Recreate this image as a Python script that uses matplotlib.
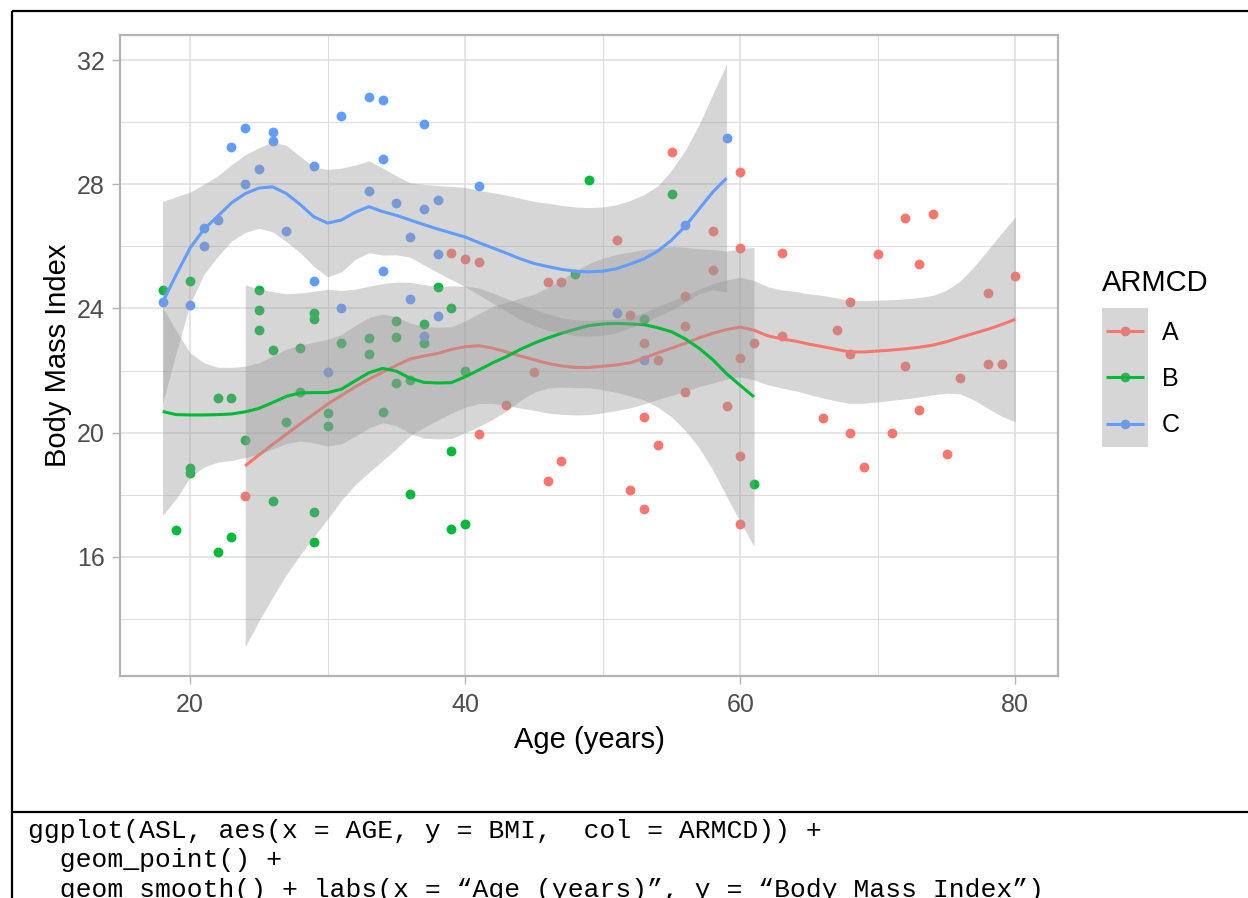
import matplotlib
matplotlib.use("Agg")
import matplotlib.pyplot as plt
import numpy as np
from matplotlib.patches import Rectangle

plt.rcParams['font.family'] = ['Liberation Sans', 'DejaVu Sans']

# ---------------- data: points ----------------
groups = ['A', 'B', 'C']
colors = {'A': '#F8766D', 'B': '#00BA38', 'C': '#619CFF'}

age_A = [24, 39, 40, 41, 41, 43, 45, 46, 46, 47, 47, 51, 52, 52, 53, 53, 53, 54, 54, 55,
         56, 56, 56, 58, 58, 59, 60, 60, 60, 60, 60, 61, 63, 63, 66, 67, 68, 68, 68, 69,
         70, 71, 72, 72, 73, 73, 74, 75, 76, 78, 78, 79, 80]
bmi_A = [17.96, 25.8, 25.6, 25.5, 19.95, 20.9, 21.95, 24.85, 18.45, 24.85, 19.1, 26.2,
         23.8, 18.15, 22.9, 17.55, 20.5, 19.6, 22.35, 29.05, 24.4, 23.43, 21.3, 26.5,
         25.24, 20.85, 28.4, 25.95, 22.4, 19.25, 17.05, 22.9, 25.8, 23.1, 20.47, 23.3,
         24.2, 22.53, 20.0, 18.9, 25.75, 20.0, 26.9, 22.14, 25.42, 20.73, 27.05, 19.3,
         21.75, 24.5, 22.2, 22.2, 25.05]

age_B = [18, 19, 20, 20, 20, 22, 22, 23, 23, 24, 25, 25, 25, 26, 26, 27, 28, 28, 29, 29,
         29, 29, 30, 30, 31, 33, 33, 34, 35, 35, 35, 36, 36, 37, 37, 38, 39, 39, 39, 40,
         40, 48, 49, 53, 55, 61]
bmi_B = [24.6, 16.85, 24.9, 18.85, 18.7, 21.1, 16.15, 21.1, 16.65, 19.75, 24.6, 23.95,
         23.3, 22.65, 17.8, 20.35, 22.72, 21.3, 23.85, 23.65, 17.45, 16.48, 20.64, 20.2,
         22.9, 23.05, 22.53, 20.65, 23.6, 23.07, 21.6, 18.02, 21.7, 23.5, 22.9, 24.7,
         24.0, 19.4, 16.9, 22.0, 17.05, 25.1, 28.15, 23.65, 27.7, 18.35]

age_C = [18, 20, 21, 21, 22, 23, 24, 24, 25, 26, 26, 27, 29, 29, 30, 31, 31, 33, 33, 34,
         34, 34, 35, 36, 36, 37, 37, 37, 38, 38, 38, 41, 51, 53, 56, 59]
bmi_C = [24.2, 24.1, 26.6, 26.0, 26.85, 29.2, 29.8, 28.0, 28.5, 29.7, 29.4, 26.5, 28.6,
         24.9, 21.95, 30.2, 24.0, 30.8, 27.8, 30.7, 28.8, 25.2, 27.4, 26.3, 24.3, 29.95,
         27.2, 23.1, 27.5, 25.75, 23.75, 27.95, 23.85, 22.35, 26.7, 29.5]

# ---------------- data: loess smooths ----------------
sm_age_A = list(range(24, 81))
sm_fit_A = [18.93, 19.28, 19.62, 19.95, 20.28, 20.6, 20.92, 21.2, 21.47, 21.72, 21.95,
            22.17, 22.37, 22.47, 22.55, 22.68, 22.77, 22.8, 22.72, 22.6, 22.47, 22.35,
            22.23, 22.15, 22.1, 22.1, 22.14, 22.18, 22.25, 22.4, 22.57, 22.72, 22.88,
            23.05, 23.2, 23.32, 23.4, 23.3, 23.12, 23.02, 22.95, 22.85, 22.77, 22.68,
            22.6, 22.6, 22.63, 22.66, 22.7, 22.75, 22.82, 22.93, 23.07, 23.2, 23.33,
            23.48, 23.65]
sm_ci_A = [5.83, 5.35, 4.92, 4.52, 4.22, 3.95, 3.7, 3.38, 3.15, 3.0, 2.85, 2.68, 2.47,
           2.3, 2.15, 2.05, 1.95, 1.86, 1.78, 1.72, 1.68, 1.63, 1.6, 1.56, 1.53, 1.52,
           1.5, 1.47, 1.45, 1.47, 1.5, 1.52, 1.55, 1.57, 1.6, 1.6, 1.6, 1.6, 1.58, 1.58,
           1.6, 1.62, 1.65, 1.66, 1.66, 1.65, 1.64, 1.62, 1.61, 1.6, 1.6, 1.66, 1.82,
           2.15, 2.55, 2.95, 3.3]

sm_age_B = list(range(18, 62))
sm_fit_B = [20.68, 20.58, 20.57, 20.57, 20.58, 20.6, 20.67, 20.78, 20.97, 21.17, 21.28,
            21.29, 21.29, 21.4, 21.67, 21.93, 22.07, 21.98, 21.75, 21.62, 21.6, 21.61,
            21.8, 22.02, 22.25, 22.45, 22.68, 22.88, 23.05, 23.2, 23.33, 23.45, 23.5,
            23.52, 23.5, 23.48, 23.38, 23.25, 23.02, 22.72, 22.35, 21.9, 21.52, 21.15]
sm_ci_B = [3.35, 2.7, 2.0, 1.68, 1.53, 1.5, 1.47, 1.47, 1.5, 1.52, 1.55, 1.62, 1.72,
           1.76, 1.78, 1.78, 1.75, 1.76, 1.78, 1.8, 1.8, 1.8, 1.8, 1.82, 1.82, 1.75,
           1.65, 1.58, 1.62, 1.73, 1.88, 2.0, 2.12, 2.22, 2.32, 2.42, 2.56, 2.74, 2.95,
           3.2, 3.55, 3.95, 4.4, 4.82]

sm_age_C = list(range(18, 60))
sm_fit_C = [24.2, 25.1, 25.95, 26.55, 26.97, 27.4, 27.7, 27.88, 27.92, 27.7, 27.35,
            26.95, 26.75, 26.85, 27.1, 27.28, 27.12, 27.0, 26.85, 26.7, 26.56, 26.43,
            26.3, 26.12, 25.95, 25.78, 25.6, 25.45, 25.35, 25.26, 25.2, 25.18, 25.2,
            25.28, 25.43, 25.6, 25.85, 26.2, 26.65, 27.2, 27.75, 28.2]
sm_ci_C = [3.25, 2.5, 1.8, 1.45, 1.3, 1.23, 1.25, 1.3, 1.45, 1.55, 1.55, 1.6, 1.73,
           1.67, 1.52, 1.48, 1.4, 1.27, 1.2, 1.3, 1.4, 1.5, 1.6, 1.68, 1.78, 1.87, 1.95,
           2.0, 2.04, 2.06, 2.07, 2.07, 2.07, 2.06, 2.05, 2.07, 2.1, 2.25, 2.45, 2.72,
           3.15, 3.67]

points = {'A': (age_A, bmi_A), 'B': (age_B, bmi_B), 'C': (age_C, bmi_C)}
smooths = {'A': (sm_age_A, sm_fit_A, sm_ci_A),
           'B': (sm_age_B, sm_fit_B, sm_ci_B),
           'C': (sm_age_C, sm_fit_C, sm_ci_C)}

x_major = [20, 40, 60, 80]
x_minor = [30, 50, 70]
y_major = [16, 20, 24, 28, 32]
y_minor = [14, 18, 22, 26, 30]

x_title = 'Age (years)'
y_title = 'Body Mass Index'
legend_title = 'ARMCD'
code_lines = ['ggplot(ASL, aes(x = AGE, y = BMI,  col = ARMCD)) +',
              '  geom_point() +',
              '  geom_smooth() + labs(x = \u201cAge (years)\u201d, y = \u201cBody Mass Index\u201d)']

# ---------------- figure ----------------
W, H = 1248, 898
fig = plt.figure(figsize=(W / 100, H / 100), dpi=100)
fig.patch.set_facecolor('white')

pl, pr, pt, pb = 120, 1058, 35, 676
ax = fig.add_axes([pl / W, (H - pb) / H, (pr - pl) / W, (pb - pt) / H])
ax.set_xlim(14.9, 83.1)
ax.set_ylim(12.16, 32.81)
ax.set_xticks(x_major)
ax.set_xticks(x_minor, minor=True)
ax.set_yticks(y_major)
ax.set_yticks(y_minor, minor=True)
ax.set_axisbelow(True)
ax.grid(which='major', color='#DEDEDE', linewidth=1.1)
ax.grid(which='minor', color='#DEDEDE', linewidth=0.8)
for s in ax.spines.values():
    s.set_color('#B3B3B3')
    s.set_linewidth(1.6)
ax.tick_params(which='major', length=5.6, width=1.0, color='#B3B3B3',
               labelsize=18, labelcolor='#4D4D4D')
ax.tick_params(axis='x', which='major', pad=6.5)
ax.tick_params(axis='y', which='major', pad=5.5)
ax.tick_params(which='minor', length=0)

ribbon_color = '#999999'
for g in groups:
    xs, ys = points[g]
    ax.scatter(xs, ys, s=50, color=colors[g], linewidths=0, zorder=2)
for g in groups:
    a, f, c = smooths[g]
    a = np.array(a, float)
    f = np.array(f, float)
    c = np.array(c, float)
    ax.fill_between(a, f - c, f + c, color=ribbon_color, alpha=0.4, linewidth=0, zorder=3)
    ax.plot(a, f, color=colors[g], linewidth=2.2, zorder=3, solid_capstyle='butt')

ax.set_xlabel(x_title, fontsize=21, color='black', va='baseline')
ax.xaxis.set_label_coords(0.5, (pb - 748) / (pb - pt))
ax.set_ylabel(y_title, fontsize=21, color='black', va='center')
ax.yaxis.set_label_coords((58 - pl) / (pr - pl), 0.5)

# ---------------- overlay: legend, frame, code ----------------
ov = fig.add_axes([0, 0, 1, 1])
ov.set_xlim(0, W)
ov.set_ylim(H, 0)
ov.axis('off')

ov.text(1102, 283, legend_title, fontsize=21, ha='left', va='center', color='black')
key_top, key_h, key_l, key_w = 307.5, 46.4, 1102, 46
for i, g in enumerate(groups):
    yc = key_top + key_h * (i + 0.5)
    ov.plot([key_l + key_w / 2], [yc], 'o', color=colors[g], markersize=7,
            markeredgewidth=0, zorder=1)
    ov.add_patch(Rectangle((key_l, key_top + key_h * i), key_w, key_h,
                           facecolor=ribbon_color, alpha=0.4, linewidth=0, zorder=2))
    ov.plot([key_l + 4, key_l + key_w - 4], [yc, yc], color=colors[g], linewidth=2.2,
            zorder=3, solid_capstyle='butt')
    ov.text(1162, yc + 2, g, fontsize=18, ha='left', va='center', color='black')

frame_kw = dict(color='black', linewidth=1.6, solid_capstyle='butt', zorder=5)
ov.plot([12, W], [11, 11], **frame_kw)
ov.plot([12, 12], [11, H], **frame_kw)
ov.plot([12, W], [812, 812], **frame_kw)

for i, line in enumerate(code_lines):
    ov.text(28, 838 + 29.5 * i, line, fontsize=19,
            family=['Liberation Mono', 'DejaVu Sans Mono'],
            ha='left', va='baseline', color='black')

fig.savefig('out.png', dpi=100)
